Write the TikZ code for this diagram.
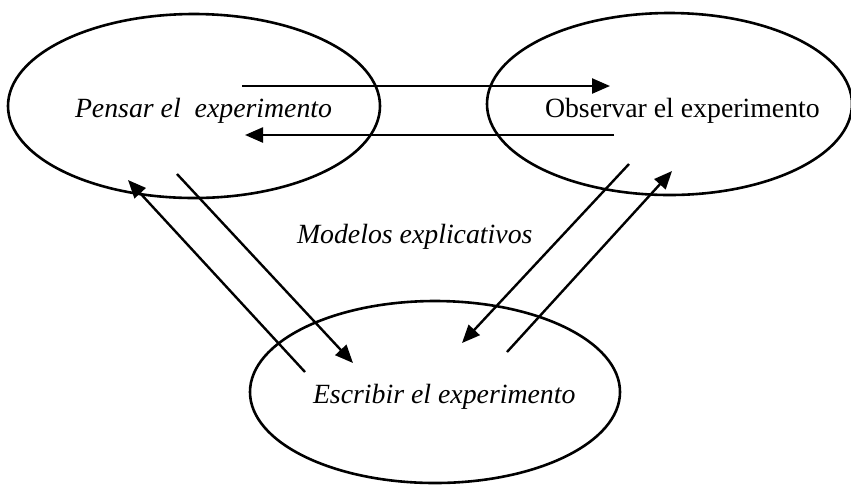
\documentclass[tikz,border=0pt]{standalone}
\usepackage{fontspec}
\setmainfont{Liberation Serif}
\usetikzlibrary{shapes.geometric, arrows.meta}

\begin{document}
\begin{tikzpicture}[
  x=0.5pt, y=-0.5pt,
  every node/.append style={inner sep=0pt, outer sep=0pt},
  elp/.style={draw, ellipse, line width=1.3pt},
  lbl/.style={anchor=base west, font=\fontsize{13.9}{16}\selectfont},
  arr/.style={-{Triangle[length=9pt, width=7.5pt]}, line width=1.2pt},
]
\useasboundingbox (0,0) rectangle (851,484);

%% ─── Ellipses: three stages, positions in pixels ───────────────────────────
\node[elp, minimum width=186pt,   minimum height=92pt] (pens) at (194,   106) {};
\node[elp, minimum width=182.5pt, minimum height=91pt] (obs)  at (669.5, 104) {};
\node[elp, minimum width=185pt,   minimum height=91pt] (esc)  at (435,   392) {};

%% ─── Labels ─────────────────────────────────────────────────────────────────
\node[lbl] (tpens) at (75,  117) {\itshape Pensar el\ \ experimento};
\node[lbl] (tobs)  at (545, 117) {Observar el experimento};
\node[lbl] (tesc)  at (313, 403) {\itshape Escribir el experimento};
\node[lbl] (tmod)  at (297, 243) {\itshape Modelos explicativos};

%% ─── Arrow ends ─────────────────────────────────────────────────────────────
\coordinate (po1) at (242, 86);
\coordinate (po2) at (610, 86);
\coordinate (op1) at (614, 135);
\coordinate (op2) at (245, 135);
\coordinate (pe1) at (177, 174);
\coordinate (pe2) at (353, 363);
\coordinate (ep1) at (305, 372);
\coordinate (ep2) at (128, 180);
\coordinate (oe1) at (629, 164);
\coordinate (oe2) at (462, 343);
\coordinate (eo1) at (507, 352);
\coordinate (eo2) at (672, 171);

\draw[arr] (po1) -- (po2);
\draw[arr] (op1) -- (op2);
\draw[arr] (pe1) -- (pe2);
\draw[arr] (ep1) -- (ep2);
\draw[arr] (oe1) -- (oe2);
\draw[arr] (eo1) -- (eo2);

\end{tikzpicture}
\end{document}
